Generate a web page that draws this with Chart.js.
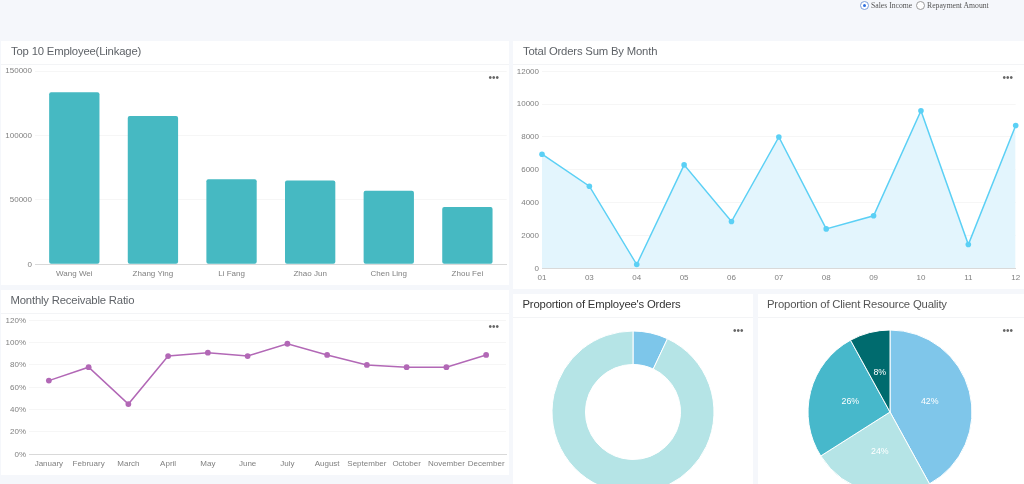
<!DOCTYPE html>
<html><head><meta charset="utf-8">
<script src="https://cdn.jsdelivr.net/npm/chart.js@4"></script>
<style>
html,body{margin:0;padding:0;width:1024px;height:484px;overflow:hidden;background:#f5f7fb;font-family:"Liberation Sans",Arial,sans-serif}
#page{position:absolute;left:0;top:0;width:1024px;height:484px;filter:blur(.3px)}
.panel{position:absolute;background:#fff;overflow:hidden}
.head{position:absolute;left:0;right:0;top:0;border-bottom:1px solid #f3f4f6;box-sizing:border-box}
.title{position:absolute;white-space:nowrap;font-size:11.3px;letter-spacing:-.18px;line-height:14px;color:#5f6368}
.dots{position:absolute;font-size:10px;line-height:8px;letter-spacing:0;color:#666;white-space:nowrap}
canvas{position:absolute}
.radio{position:absolute;top:.5px;font-family:"Liberation Serif",serif;font-size:7.7px;line-height:10px;color:#555;white-space:nowrap}
.rb{position:absolute;width:7px;height:7px;border:1px solid #9a9a9a;border-radius:50%;background:#fff;top:1px}
.rb.on{border-color:#7f9fd8}
.rb.on:after{content:"";position:absolute;left:2px;top:2px;width:3px;height:3px;border-radius:50%;background:#2f6fe0}
</style></head><body><div id="page">
<span class="rb on" style="left:860px"></span><span class="radio" style="left:871px">Sales Income</span>
<span class="rb" style="left:915.5px"></span><span class="radio" style="left:927px">Repayment Amount</span>

<div class="panel" style="left:1px;top:40.5px;width:508px;height:244.5px"><div class="head" style="height:24px"></div><div class="title" style="left:10px;top:3.5px">Top 10 Employee(Linkage)</div></div>
<div class="panel" style="left:513px;top:40.5px;width:511px;height:248px"><div class="head" style="height:24px"></div><div class="title" style="left:10px;top:3.5px">Total Orders Sum By Month</div></div>
<div class="panel" style="left:1px;top:289.7px;width:508px;height:185.3px"><div class="head" style="height:24px"></div><div class="title" style="left:9.5px;top:3.5px">Monthly Receivable Ratio</div></div>
<div class="panel" id="p4" style="left:513px;top:294px;width:240px;height:190px"><div class="head" style="height:24px"></div><div class="title" style="left:9.5px;top:3px;color:#333">Proportion of Employee's Orders</div></div>
<div class="panel" id="p5" style="left:758px;top:294px;width:266px;height:190px"><div class="head" style="height:24px"></div><div class="title" style="left:9px;top:3px;color:#555">Proportion of Client Resource Quality</div></div>

<canvas id="c1" style="left:1px;top:65px;width:508px;height:220px"></canvas>
<canvas id="c2" style="left:513px;top:65px;width:511px;height:224px"></canvas>
<canvas id="c3" style="left:1px;top:314px;width:508px;height:161px"></canvas>

<div class="dots" style="left:488.5px;top:74px">•••</div>
<div class="dots" style="left:1002.5px;top:74px">•••</div>
<div class="dots" style="left:488.5px;top:323px">•••</div>
<div class="dots" style="left:733px;top:327px">•••</div>
<div class="dots" style="left:1002.5px;top:327px">•••</div>
</div>
<script>
const employees = ["Wang Wei","Zhang Ying","Li Fang","Zhao Jun","Chen Ling","Zhou Fei"];
const employeeValues = [133500,115000,66000,65000,57000,44500];
const orderMonths = ["01","03","04","05","06","07","08","09","10","11","12"];
const orderValues = [6950,5000,230,6300,2850,8000,2400,3200,9600,1450,8700];
const ratioMonths = ["January","February","March","April","May","June","July","August","September","October","November","December"];
const ratioValues = [66,78,45,88,91,88,99,89,80,78,78,89];
const orderShare = [7,93];
const qualityShare = [42,24,26,8];

const GRID = "#f6f6f6", AXIS = "#d9d9d9", TICK = "#808080";
const F = {family:'"Liberation Sans",Arial,sans-serif', size:8};
Chart.defaults.animation = false;
Chart.defaults.responsive = false;
Chart.defaults.devicePixelRatio = 1;

function mk(id,w,h){const c=document.getElementById(id);c.width=w;c.height=h;return c;}
function yAxis(width,max,step,suffix){return {
  min:0,max:max,border:{display:false},
  grid:{color:GRID,drawTicks:false,lineWidth:1},
  ticks:{stepSize:step,color:TICK,font:F,padding:3,callback:v=>v+(suffix||"")},
  afterFit(s){s.width=width;s.paddingTop=0;s.paddingBottom=0;}
};}
function xAxis(height,offset){return {
  offset:offset,border:{color:AXIS,width:1},
  grid:{display:false,drawTicks:false},
  ticks:{color:TICK,font:F,padding:4.5,maxRotation:0,autoSkip:false},
  afterFit(s){s.height=height;s.paddingLeft=0;s.paddingRight=0;}
};}
const base = {plugins:{legend:{display:false},tooltip:{enabled:false}}};

new Chart(mk("c1",508,220),{type:"bar",
  data:{labels:employees,datasets:[{data:employeeValues,backgroundColor:"#46b9c2",borderRadius:2,borderSkipped:false,barPercentage:.64,categoryPercentage:1}]},
  options:{...base,layout:{autoPadding:false,padding:{left:0,top:6,right:2.3,bottom:0}},scales:{x:xAxis(20.7,true),y:yAxis(34,150000,50000)}}});

new Chart(mk("c2",511,224),{type:"line",
  data:{labels:orderMonths,datasets:[{data:orderValues,borderColor:"#5bd0f5",backgroundColor:"#e3f5fd",fill:"origin",borderWidth:1.5,tension:0,
    pointRadius:2.8,pointBackgroundColor:"#5bd0f5",pointBorderColor:"#5bd0f5",pointBorderWidth:0,clip:false}]},
  options:{...base,layout:{autoPadding:false,padding:{left:0,top:6.3,right:8.3,bottom:0}},scales:{x:xAxis(20.7,false),y:yAxis(29,12000,2000)}}});

new Chart(mk("c3",508,161),{type:"line",
  data:{labels:ratioMonths,datasets:[{data:ratioValues,borderColor:"#b268b6",fill:false,borderWidth:1.5,tension:0,
    pointRadius:2.9,pointBackgroundColor:"#b268b6",pointBorderColor:"#b268b6",pointBorderWidth:0}]},
  options:{...base,layout:{autoPadding:false,padding:{left:0,top:6.3,right:3,bottom:0}},scales:{x:xAxis(20.7,true),y:yAxis(28,120,20,"%")}}});

const pctLabels = {id:"pctLabels",afterDatasetsDraw(ch){
  const ds=ch.data.datasets[0],ctx=ch.ctx,total=ds.data.reduce((a,b)=>a+b,0);
  ctx.save();ctx.fillStyle="#fff";ctx.font='8.8px "Liberation Sans",Arial,sans-serif';ctx.textAlign="center";ctx.textBaseline="middle";
  ch.getDatasetMeta(0).data.forEach((a,i)=>{const p=a.tooltipPosition();ctx.fillText(Math.round(ds.data[i]/total*100)+"%",p.x,p.y);});
  ctx.restore();
}};
function pieCanvas(parent,id,cx,cy,r){
  const c=document.createElement("canvas");c.id=id;const s=Math.ceil(r*2)+6;
  c.width=s;c.height=s;c.style.width=s+"px";c.style.height=s+"px";
  c.style.left=Math.round(cx-s/2)+"px";c.style.top=Math.round(cy-s/2)+"px";
  document.getElementById(parent).appendChild(c);return c;
}
new Chart(pieCanvas("p4","c4",120,118,81),{type:"doughnut",
  data:{datasets:[{data:orderShare,backgroundColor:["#7dc6ea","#b5e4e6"],borderColor:"#fff",borderWidth:1,hoverOffset:0,radius:81}]},
  options:{...base,cutout:49}});
new Chart(pieCanvas("p5","c5",132,118,82),{type:"pie",
  data:{datasets:[{data:qualityShare,backgroundColor:["#7fc6ea","#b5e4e6","#47b8cb","#006b6e"],borderColor:"#fff",borderWidth:1,hoverOffset:0,radius:82}]},
  options:base,plugins:[pctLabels]});
</script>
</body></html>
